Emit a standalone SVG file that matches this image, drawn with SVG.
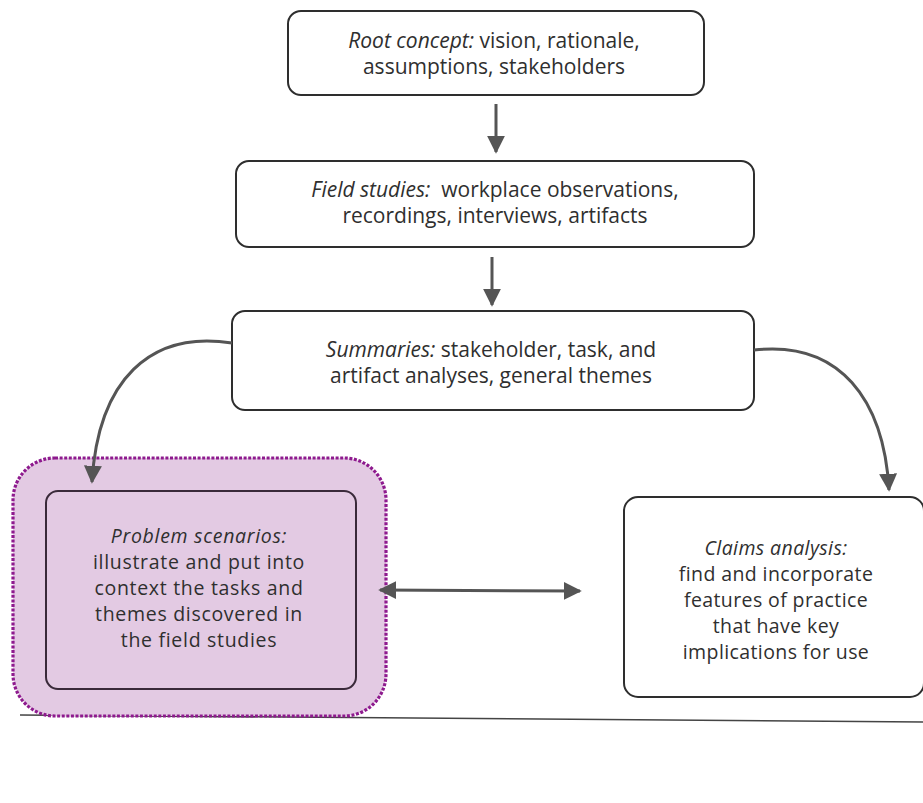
<svg xmlns="http://www.w3.org/2000/svg" width="923" height="803" viewBox="0 0 923 803">
  <defs>
    <marker id="head" viewBox="0 0 10 10" refX="9" refY="5" markerWidth="6" markerHeight="6" markerUnits="strokeWidth" orient="auto-start-reverse">
      <path d="M0,0 L10,5 L0,10 Z" fill="#555"/>
    </marker>
    <style>
      .box { fill: #ffffff; stroke: #2e2e2e; stroke-width: 2; }
      .inner { fill: none; stroke: #3a2a3a; stroke-width: 2; }
      .highlight { fill: #e3cae3; stroke: #8e1a8e; stroke-width: 3.2; stroke-dasharray: 3 1.6; }
      .lbl { font-family: "Open Sans", "Noto Sans", sans-serif; font-size: 21px; fill: #2f2f2f; text-anchor: middle; }
      .sm { font-size: 19.5px; letter-spacing: 0.4px; }
      .ps { font-size: 19.5px; letter-spacing: 0.7px; }
      .it { font-style: italic; }
      .conn { fill: none; stroke: #555; stroke-width: 3; marker-end: url(#head); }
      .rule { fill: none; stroke: #444; stroke-width: 1.6; }
    </style>
  </defs>

  <rect width="923" height="803" fill="#ffffff"/>

  <!-- baseline rule under the lower row -->
  <path class="rule" d="M20,715 L923,722"/>

  <g id="root-concept">
    <rect class="box" x="288" y="11" width="416" height="84" rx="13"/>
    <text class="lbl" x="494" y="48"><tspan class="it">Root concept:</tspan> vision, rationale,</text>
    <text class="lbl" x="494" y="74">assumptions, stakeholders</text>
  </g>

  <g id="field-studies">
    <rect class="box" x="236" y="161" width="518" height="86" rx="13"/>
    <text class="lbl" x="495" y="197"><tspan class="it">Field studies:</tspan>&#160; workplace observations,</text>
    <text class="lbl" x="495" y="223">recordings, interviews, artifacts</text>
  </g>

  <g id="summaries">
    <rect class="box" x="232" y="311" width="522" height="99" rx="13"/>
    <text class="lbl" x="491" y="357"><tspan class="it">Summaries:</tspan> stakeholder, task, and</text>
    <text class="lbl" x="491" y="383">artifact analyses, general themes</text>
  </g>

  <g id="problem-scenarios">
    <rect class="highlight" x="13" y="458" width="373" height="258" rx="42"/>
    <rect class="inner" x="46" y="491" width="310" height="198" rx="12"/>
    <text class="lbl ps" x="199" y="543"><tspan class="it">Problem scenarios:</tspan></text>
    <text class="lbl ps" x="199" y="569">illustrate and put into</text>
    <text class="lbl ps" x="199" y="595">context the tasks and</text>
    <text class="lbl ps" x="199" y="621">themes discovered in</text>
    <text class="lbl ps" x="199" y="647">the field studies</text>
  </g>

  <g id="claims-analysis">
    <rect class="box" x="624" y="497" width="300" height="200" rx="14"/>
    <text class="lbl sm" x="776" y="555"><tspan class="it">Claims analysis:</tspan></text>
    <text class="lbl sm" x="776" y="581">find and incorporate</text>
    <text class="lbl sm" x="776" y="607">features of practice</text>
    <text class="lbl sm" x="776" y="633">that have key</text>
    <text class="lbl sm" x="776" y="659">implications for use</text>
  </g>

  <g id="connectors">
    <path class="conn" d="M496,104 L496,152"/>
    <path class="conn" d="M492,257 L492,305"/>
    <path class="conn" d="M232,343 C150,330 98,380 92,482"/>
    <path class="conn" d="M754,350 C840,340 884,400 889,490"/>
    <path class="conn" style="marker-start:url(#head)" d="M380,590 L580,591"/>
  </g>
</svg>
